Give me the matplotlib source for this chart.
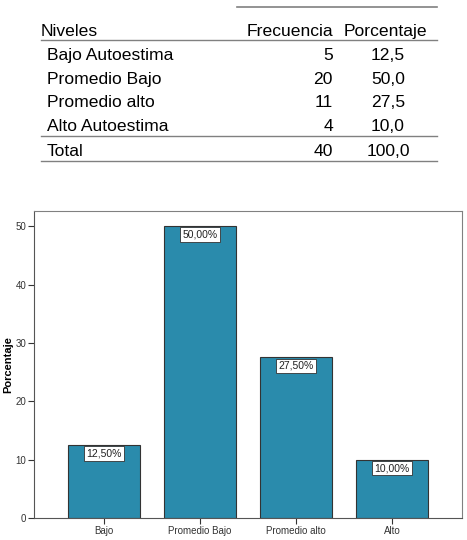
import numpy as np
import matplotlib.pyplot as plt

# Datos de la tabla
niveles = ['Bajo Autoestima', 'Promedio Bajo', 'Promedio alto', 'Alto Autoestima']
frecuencia = [5, 20, 11, 4]
porcentaje = [12.5, 50.0, 27.5, 10.0]
total_frec = 40
total_pct = 100.0

# Datos del grafico
categorias = ['Bajo', 'Promedio Bajo', 'Promedio alto', 'Alto']
valores = [12.5, 50.0, 27.5, 10.0]

W, H = 467, 540
fig = plt.figure(figsize=(W / 100, H / 100), dpi=100)
plt.rcParams['font.family'] = ['Liberation Sans', 'DejaVu Sans']

def fx(px):
    return px / W

def fy(py):
    return 1 - py / H

# --- Tabla ---
gris = '#808080'
fs = 12.6
fig.add_artist(plt.Line2D([fx(237), fx(437)], [fy(7), fy(7)], color=gris, lw=1.2))
fig.text(fx(41), fy(36), 'Niveles', fontsize=fs, va='baseline')
fig.text(fx(333), fy(36), 'Frecuencia', fontsize=fs, va='baseline', ha='right')
fig.text(fx(344), fy(36), 'Porcentaje', fontsize=fs, va='baseline')
fig.add_artist(plt.Line2D([fx(41), fx(437)], [fy(40), fy(40)], color=gris, lw=1.0))

filas_y = [60, 84, 107, 131]
for nivel, f, p, y in zip(niveles, frecuencia, porcentaje, filas_y):
    fig.text(fx(47), fy(y), nivel, fontsize=fs, va='baseline')
    fig.text(fx(333), fy(y), str(f), fontsize=fs, va='baseline', ha='right')
    fig.text(fx(405), fy(y), f'{p:.1f}'.replace('.', ','), fontsize=fs, va='baseline', ha='right')
fig.add_artist(plt.Line2D([fx(41), fx(437)], [fy(136), fy(136)], color=gris, lw=1.0))
fig.text(fx(47), fy(156), 'Total', fontsize=fs, va='baseline')
fig.text(fx(333), fy(156), str(total_frec), fontsize=fs, va='baseline', ha='right')
fig.text(fx(410), fy(156), f'{total_pct:.1f}'.replace('.', ','), fontsize=fs, va='baseline', ha='right')
fig.add_artist(plt.Line2D([fx(41), fx(437)], [fy(161), fy(161)], color=gris, lw=1.0))

# --- Grafico de barras ---
ax = fig.add_axes([fx(34), fy(518), fx(462 - 34), (518 - 211) / H])
x = np.arange(len(categorias))
ax.bar(x, valores, width=0.75, color='#2A8BAC', edgecolor='#333333', linewidth=0.8)
ax.set_xlim(-0.73, 3.73)
ax.set_ylim(0, 52.6)
ax.set_yticks([0, 10, 20, 30, 40, 50])
ax.set_xticks(x)
ax.set_xticklabels(categorias)
ax.tick_params(axis='both', labelsize=7, colors='#333333', length=4, width=0.8, pad=1.5)
ax.set_ylabel('Porcentaje', fontsize=8, fontweight='bold')
ax.yaxis.set_label_coords(-0.048, 0.5)
for s in ax.spines.values():
    s.set_color('#808080')
    s.set_linewidth(0.8)
ax.spines['bottom'].set_color('#555555')
ax.spines['left'].set_color('#555555')

for xi, v in zip(x, valores):
    ax.text(xi, v - 0.6, f'{v:.2f}%'.replace('.', ','), ha='center', va='top', fontsize=7.5,
            color='#222222',
            bbox=dict(boxstyle='square,pad=0.22', facecolor='white', edgecolor='#333333', linewidth=0.6))

fig.savefig('out.png', dpi=100)
